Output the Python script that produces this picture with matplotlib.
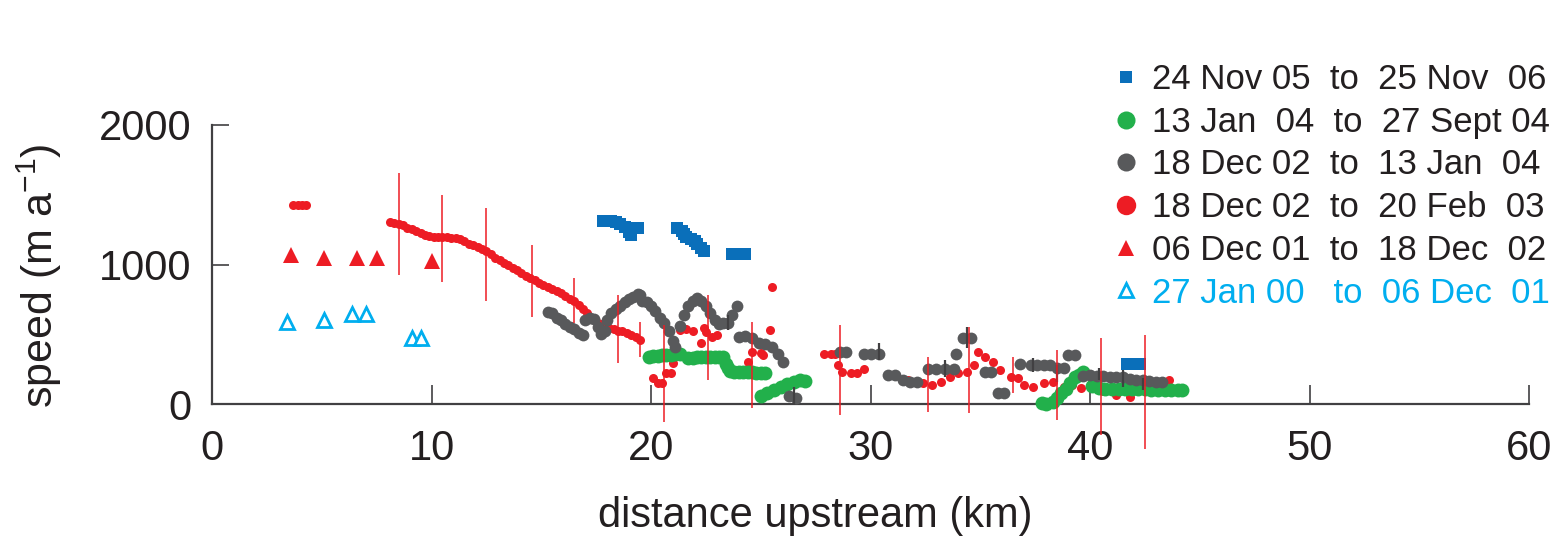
import matplotlib
matplotlib.use('Agg')
import matplotlib.pyplot as plt
from matplotlib.lines import Line2D

plt.rcParams['font.family'] = ['Liberation Sans', 'DejaVu Sans']
plt.rcParams['mathtext.fontset'] = 'custom'
plt.rcParams['mathtext.rm'] = 'Liberation Sans'
plt.rcParams['mathtext.it'] = 'Liberation Sans:italic'

# 24 Nov 05 to 25 Nov 06
blue_x = [17.8, 18.0, 18.2, 18.4, 18.6, 18.8, 19.0, 19.2, 19.4, 19.0, 19.1,
          21.2, 21.4, 21.5, 21.6, 21.8, 22.0, 22.1, 22.3, 22.4,
          23.7, 23.9, 24.1, 24.3,
          41.7, 41.9, 42.1, 42.3]
blue_y = [1310, 1310, 1310, 1305, 1290, 1270, 1260, 1265, 1265, 1230, 1215,
          1265, 1240, 1220, 1200, 1180, 1170, 1150, 1120, 1100,
          1075, 1075, 1075, 1075,
          285, 285, 285, 285]

# 13 Jan 04 to 27 Sept 04
green_x = [19.9, 20.1, 20.3, 20.5, 20.7, 20.9, 21.1, 21.3,
           21.7, 21.9, 22.1, 22.3, 22.5, 22.7, 22.9, 23.1, 23.3,
           23.4, 23.5, 23.6, 23.8, 24.0, 24.2, 24.4, 24.6, 24.8, 25.0, 25.2,
           25.0, 25.3, 25.6, 25.9, 26.2, 26.5, 26.8, 27.0,
           37.8, 38.0, 38.3, 38.5, 38.7, 38.9, 39.1, 39.3, 39.5, 39.7,
           40.1, 40.4, 40.7, 41.0, 41.3, 41.6, 41.9, 42.2, 42.5, 42.8, 43.1, 43.4, 43.7, 44.0, 44.2]
green_y = [340, 345, 345, 350, 350, 350, 355, 355,
           330, 330, 335, 335, 335, 335, 335, 340, 335,
           290, 260, 240, 230, 230, 230, 230, 230, 225, 225, 225,
           60, 80, 100, 120, 140, 160, 170, 165,
           10, 0, 15, 40, 80, 110, 150, 190, 210, 230,
           130, 115, 110, 105, 105, 105, 105, 105, 105, 100, 100, 100, 100, 100, 100]

# 18 Dec 02 to 13 Jan 04
gray_x = [15.3, 15.5, 15.7, 15.9, 16.1, 16.3, 16.5, 16.7, 16.9, 17.0, 17.2, 17.4, 17.6, 17.7, 17.9,
          18.0, 18.2, 18.4, 18.6, 18.8, 19.0, 19.2, 19.4, 19.5, 19.6, 19.8, 20.0, 20.2, 20.4, 20.6,
          20.8, 21.0, 21.1, 21.3, 21.5, 21.7, 21.9, 22.1, 22.3, 22.5, 22.7, 22.9, 23.1, 23.3, 23.5,
          23.7, 23.9, 24.0, 24.3, 24.6, 24.9, 25.2, 25.5, 25.8, 26.0, 26.3, 26.6,
          28.6, 28.9, 29.7, 30.0, 30.4, 30.8, 31.1, 31.5, 31.8, 32.1, 32.6, 33.0, 33.4, 33.8,
          33.9, 34.2, 34.6, 35.2, 35.5, 35.8, 36.1, 36.8, 37.3, 37.6, 37.9, 38.2, 38.5, 38.8,
          39.0, 39.3, 39.7, 40.0, 40.3, 40.6, 40.9, 41.2, 41.5, 41.8, 42.1, 42.4, 42.7, 43.0, 43.3]
gray_y = [660, 650, 620, 600, 575, 555, 535, 510, 495, 600, 620, 610, 550, 500, 520,
          600, 650, 680, 700, 730, 750, 770, 790, 780, 740, 730, 700, 670, 620, 580,
          520, 450, 410, 560, 640, 700, 740, 760, 740, 700, 650, 600, 570, 580, 580,
          640, 700, 480, 490, 470, 440, 430, 410, 360, 300, 60, 40,
          370, 370, 360, 360, 360, 210, 210, 170, 160, 160, 250, 250, 250, 250,
          360, 470, 470, 230, 230, 80, 80, 290, 280, 280, 280, 280, 260, 260,
          350, 350, 200, 205, 200, 200, 195, 190, 190, 180, 175, 170, 165, 160, 160]

gray_err_x = [23.5, 26.5, 30.4, 33.4, 34.4, 37.4, 38.5, 40.4, 41.5, 42.4]
gray_err_lo = [530, -10, 315, 194, 400, 230, 158, 172, 122, 100]
gray_err_hi = [640, 120, 437, 315, 552, 330, 280, 258, 265, 186]

# 18 Dec 02 to 20 Feb 03
red_x = [3.7, 3.9, 4.1, 4.3,
         8.1, 8.3, 8.5, 8.7, 8.9, 9.1, 9.3, 9.5, 9.7, 9.9, 10.1, 10.3, 10.5, 10.7, 10.9,
         11.1, 11.3, 11.5, 11.7, 11.9, 12.1, 12.3, 12.5, 12.7, 12.9, 13.1, 13.3, 13.5, 13.7,
         13.9, 14.1, 14.3, 14.5, 14.7, 14.9, 15.1, 15.3, 15.5, 15.7, 15.9, 16.1, 16.3, 16.5,
         16.7, 16.9, 17.1, 17.3, 17.5, 17.7, 17.9, 18.1, 18.3, 18.5, 18.7, 18.9, 19.1, 19.3, 19.5,
         20.1, 20.3, 20.5, 20.7, 20.9, 21.0,
         21.3, 21.6, 21.9, 22.3, 22.4, 22.5, 22.8, 23.0,
         24.4, 24.6, 25.0, 25.1, 25.4, 25.5,
         27.9, 28.2, 28.4, 28.5, 28.7, 29.1, 29.4, 29.7,
         31.7, 32.0, 32.4, 32.8, 33.2, 33.6, 34.0, 34.4, 34.7, 34.9, 35.2, 35.6, 35.9,
         36.4, 36.7, 37.0, 37.4, 37.9, 38.3, 38.8, 39.2, 39.6, 40.1,
         40.6, 41.2, 41.8, 42.4, 43.0, 43.6]
red_y = [1430, 1430, 1430, 1430,
         1305, 1300, 1292, 1280, 1265, 1252, 1240, 1225, 1212, 1204, 1200, 1198, 1196, 1195, 1193,
         1188, 1180, 1165, 1150, 1138, 1125, 1110, 1095, 1075, 1050, 1030, 1010, 995, 978,
         960, 940, 920, 905, 890, 870, 855, 840, 825, 810, 795, 775, 755, 735,
         710, 680, 650, 620, 595, 575, 560, 545, 535, 525, 520, 510, 495, 480, 460,
         186, 150, 150, 222, 222, 294,
         530, 537, 523, 437, 545, 516, 480, 495,
         300, 373, 366, 351, 530, 839,
         360, 360, 360, 280, 230, 222, 222, 251,
         172, 158, 150, 136, 158, 194, 222, 229, 280, 373, 337, 301, 244,
         194, 186, 136, 122, 151, 158, 122, 136, 115, 158,
         90, 65, 50, 100, 120, 172]

red_err_x = [8.5, 10.5, 12.5, 14.6, 16.5, 18.5, 19.5, 20.6, 22.6, 24.6, 28.6, 32.6, 34.5, 36.5, 38.5, 40.5, 42.5]
red_err_lo = [925, 875, 738, 624, 580, 294, 337, -130, 172, -30, -80, -60, -65, 79, -115, -225, -320]
red_err_hi = [1656, 1498, 1405, 1140, 903, 781, 588, 566, 781, 588, 566, 337, 552, 337, 387, 473, 495]

# 06 Dec 01 to 18 Dec 02
tri_red_x = [3.6, 5.1, 6.6, 7.5, 10.0]
tri_red_y = [1065, 1050, 1050, 1050, 1025]

# 27 Jan 00 to 06 Dec 01
tri_blue_x = [3.4, 5.1, 6.4, 7.0, 9.1, 9.5]
tri_blue_y = [588, 602, 645, 645, 473, 473]

labels = ['24 Nov 05  to  25 Nov  06',
          '13 Jan  04  to  27 Sept 04',
          '18 Dec 02  to  13 Jan  04',
          '18 Dec 02  to  20 Feb  03',
          '06 Dec 01  to  18 Dec  02',
          '27 Jan 00   to  06 Dec  01']

c_blue = '#0a6fba'
c_green = '#22b04b'
c_gray = '#58595b'
c_red = '#ed1c24'
c_lblue = '#00aeef'
c_text = '#231f20'
c_axis = '#414042'

fig = plt.figure(figsize=(15.56, 5.37), dpi=100)
ax = fig.add_axes([212 / 1556, 133 / 537, 1317 / 1556, 279 / 537])

ax.plot(red_x, red_y, 'o', color=c_red, ms=6.5, mew=0, clip_on=False, zorder=2)
ax.plot(green_x, green_y, 'o', color=c_green, ms=10, mew=0, clip_on=False, zorder=3)
ax.plot(gray_x, gray_y, 'o', color=c_gray, ms=8.5, mew=0, clip_on=False, zorder=4)
ax.vlines(gray_err_x, gray_err_lo, gray_err_hi, color=c_axis, lw=1.6, clip_on=False, zorder=4)
ax.plot(blue_x, blue_y, 's', color=c_blue, ms=8, mew=0, clip_on=False, zorder=5)
ax.plot(tri_red_x, tri_red_y, '^', color=c_red, ms=11, mew=0, zorder=5)
ax.plot(tri_blue_x, tri_blue_y, '^', color='white', mec=c_lblue, ms=10, mew=2, zorder=5)
ax.vlines(red_err_x, red_err_lo, red_err_hi, color=c_red, lw=1.1, clip_on=False, zorder=6)

ax.set_xlim(0, 60)
ax.set_ylim(0, 2000)
ax.set_xticks([0, 10, 20, 30, 40, 50, 60])
ax.set_yticks([0, 1000, 2000])
ax.spines['top'].set_visible(False)
ax.spines['right'].set_visible(False)
for s in ['left', 'bottom']:
    ax.spines[s].set_color(c_axis)
    ax.spines[s].set_linewidth(1.6)
ax.tick_params(axis='both', direction='in', color=c_axis, width=1.2,
               labelsize=30, labelcolor=c_text)
ax.tick_params(axis='x', length=14, pad=18)
ax.tick_params(axis='y', length=12, pad=15)
ax.set_xlabel('distance upstream (km)', fontsize=30, color=c_text)
ax.set_ylabel('speed (m a$^{-1}$)', fontsize=31, color=c_text)
ax.xaxis.set_label_coords(0.458, -0.328)
ax.yaxis.set_label_coords(-0.112, 0.459)

handles = [
    Line2D([], [], ls='none', marker='s', color=c_blue, ms=9, mew=0),
    Line2D([], [], ls='none', marker='o', color=c_green, ms=13, mew=0),
    Line2D([], [], ls='none', marker='o', color=c_gray, ms=13, mew=0),
    Line2D([], [], ls='none', marker='o', color=c_red, ms=14, mew=0),
    Line2D([], [], ls='none', marker='^', color=c_red, ms=11, mew=0),
    Line2D([], [], ls='none', marker='^', color='white', mec=c_lblue, ms=10, mew=2),
]
leg = fig.legend(handles, labels, loc='upper left', bbox_to_anchor=(1112 / 1556, 1 - 63 / 537),
                 frameon=False, fontsize=25, handlelength=0.8, handletextpad=0.35,
                 labelspacing=0.28, borderpad=0, borderaxespad=0)
for t in leg.get_texts():
    t.set_color(c_text)
leg.get_texts()[-1].set_color(c_lblue)

fig.savefig('out.png', dpi=100)
